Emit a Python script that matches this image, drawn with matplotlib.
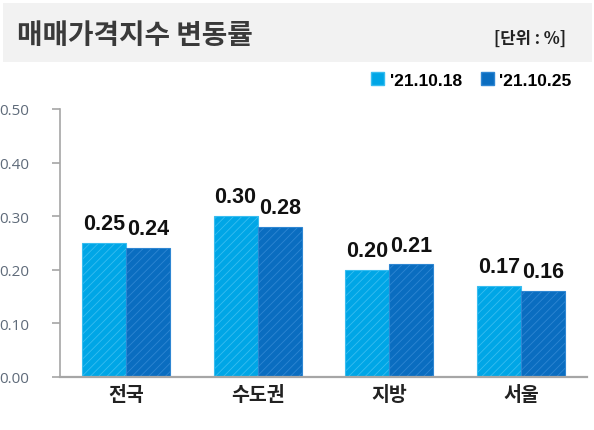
import matplotlib
matplotlib.use("Agg")
import matplotlib.pyplot as plt
from matplotlib.patches import Rectangle, Patch
import numpy as np

categories = ["전국", "수도권", "지방", "서울"]
series_names = ["'21.10.18", "'21.10.25"]
values_1018 = [0.25, 0.30, 0.20, 0.17]
values_1025 = [0.24, 0.28, 0.21, 0.16]
yticks = [0.00, 0.10, 0.20, 0.30, 0.40, 0.50]

plt.rcParams['hatch.linewidth'] = 0.6

W, H = 594, 431
fig = plt.figure(figsize=(W / 100, H / 100), dpi=100)
fig.patch.set_facecolor("white")

# title band
fig.add_artist(Rectangle((3 / W, 1 - 63 / H), (592 - 3) / W, (63 - 4) / H,
                         transform=fig.transFigure, facecolor="#F2F2F2",
                         edgecolor="none", zorder=0))
fig.text(17 / W, 1 - 36 / H, "매매가격지수 변동률", fontsize=20, fontweight="bold",
         color="#3a3a3a", family=["Noto Sans CJK KR", "DejaVu Sans"],
         ha="left", va="center")
fig.text(566 / W, 1 - 39 / H, "[단위 : %]", fontsize=12, fontweight="bold",
         color="#222222", family=["Noto Sans CJK KR", "DejaVu Sans"],
         ha="right", va="center")

ax = fig.add_axes([60 / W, 1 - 378 / H, (587 - 60) / W, (378 - 110) / H])
x = np.arange(len(categories))
bw = 0.334
c1, e1 = "#00A6E6", "#38BDF0"
c2, e2 = "#0A6DC0", "#2E86D2"
b1 = ax.bar(x - bw / 2, values_1018, width=bw, color=c1, edgecolor=e1,
            hatch="////", linewidth=0.8, zorder=2)
b2 = ax.bar(x + bw / 2, values_1025, width=bw, color=c2, edgecolor=e2,
            hatch="////", linewidth=0.8, zorder=2)

lab_family = ["Liberation Sans", "DejaVu Sans"]
for bars, vals in ((b1, values_1018), (b2, values_1025)):
    for r, v in zip(bars, vals):
        ax.annotate(f"{v:.2f}", (r.get_x() + r.get_width() / 2, v),
                    xytext=(0, 10), textcoords="offset points",
                    ha="center", va="baseline", fontsize=15.5, fontweight="bold",
                    family=lab_family, color="#111111")

ax.set_xlim(-0.5, len(categories) - 0.5)
ax.set_ylim(0, 0.5)
ax.set_yticks(yticks)
ax.set_yticklabels([f"{t:.2f}" for t in yticks], family=["Open Sans", "DejaVu Sans"],
                   fontsize=11, color="#5f6b7a")
ax.set_xticks(x)
ax.set_xticklabels(categories, family=["Noto Sans CJK KR", "DejaVu Sans"],
                   fontsize=14, fontweight="bold", color="#222222")
ax.tick_params(axis="x", length=0, pad=6)
ax.tick_params(axis="y", length=6, width=1.2, color="#A6A6A6", pad=16, direction="out")
for s in ("top", "right"):
    ax.spines[s].set_visible(False)
ax.spines["left"].set_color("#A6A6A6")
ax.spines["left"].set_linewidth(1.2)
ax.spines["bottom"].set_color("#A6A6A6")
ax.spines["bottom"].set_linewidth(1.6)

handles = [Patch(facecolor=c1, edgecolor=e1), Patch(facecolor=c2, edgecolor=e2)]
ax.legend(handles, series_names, ncol=2, loc="center right",
          bbox_to_anchor=(580 / W, 1 - 81 / H), bbox_transform=fig.transFigure,
          frameon=False, handlelength=0.75, handleheight=0.75, handletextpad=0.3,
          columnspacing=1.1, borderpad=0,
          prop={"family": ["Liberation Sans", "DejaVu Sans"], "weight": "bold", "size": 12.5})

fig.savefig("out.png", dpi=100, facecolor="white")
